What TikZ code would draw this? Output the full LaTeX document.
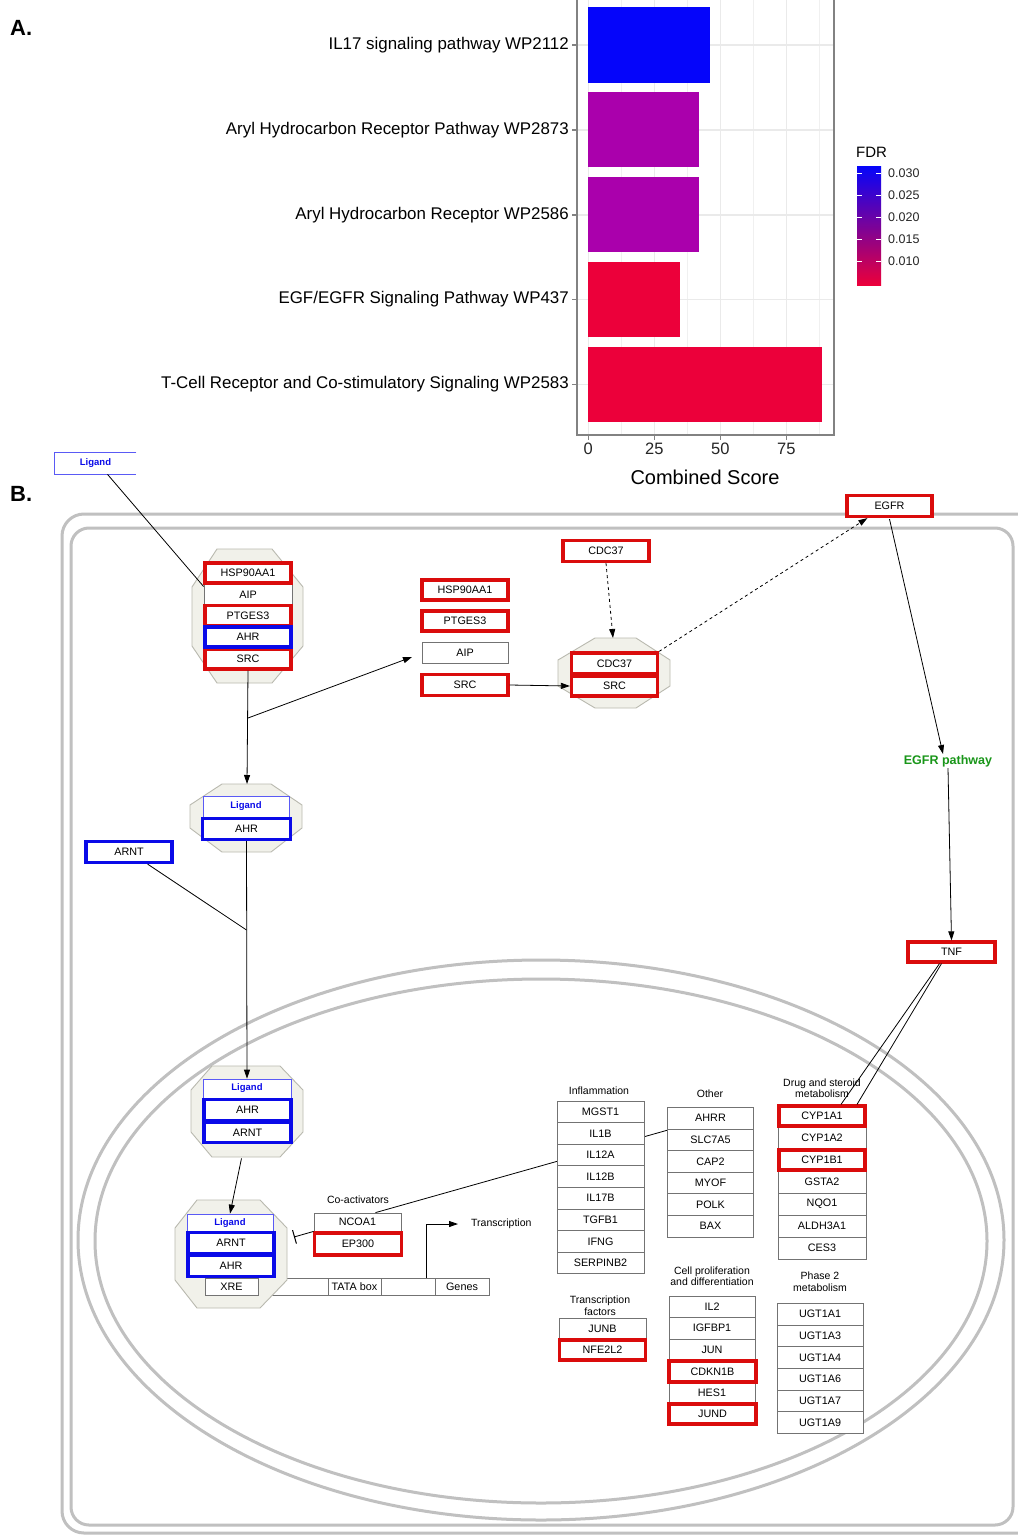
\documentclass[tikz,border=0pt]{standalone}
\usepackage{fontspec}
\setmainfont{Liberation Sans}
\usetikzlibrary{arrows.meta,calc}
\definecolor{pred}{RGB}{218,12,12}
\definecolor{pblue}{RGB}{10,10,232}
\definecolor{ligblue}{RGB}{90,90,245}
\definecolor{octfill}{RGB}{241,241,234}
\definecolor{octdraw}{RGB}{185,185,175}
\definecolor{membc}{RGB}{192,192,192}
\definecolor{barblue}{RGB}{5,5,250}
\definecolor{barpurple}{RGB}{170,0,172}
\definecolor{barred}{RGB}{236,0,58}
\definecolor{gridc}{RGB}{234,234,234}
\definecolor{axisc}{RGB}{130,130,130}
\definecolor{egfrgreen}{RGB}{25,150,25}
\newcommand{\fsz}[2]{\fontsize{#1}{#2}\selectfont}
\tikzset{
  cellb/.style={draw=black!55, line width=0.8pt, fill=white, inner sep=0pt, font=\fsz{10.8}{12}, text=black},
  redb/.style={cellb, draw=pred, line width=3.2pt},
  blueb/.style={cellb, draw=pblue, line width=3.2pt},
  ligb/.style={draw=ligblue, line width=0.7pt, fill=white, inner sep=0pt, font=\bfseries\fsz{9.5}{11}, text=pblue},
  wh/.style 2 args={minimum width=#1, minimum height=#2},
  octa/.style={fill=octfill, draw=octdraw, line width=0.9pt},
  arr/.style={-{Triangle[length=9pt,width=6pt]}, line width=0.8pt},
  darr/.style={arr, dashed},
  memb/.style={draw=membc, line width=3pt},
  ttl/.style={font=\fsz{10.5}{11.5}, align=center, inner sep=0pt},
  barlab/.style={anchor=east, font=\fsz{16.9}{18}, inner sep=0pt},
  ticklab/.style={font=\fsz{16.5}{18}, inner sep=0pt, text=black!85},
  leglab/.style={anchor=west, font=\fsz{12.5}{14}, inner sep=0pt, text=black!85},
}
\begin{document}
\begin{tikzpicture}[x=1pt,y=-1pt]
\useasboundingbox (0,0) rectangle (1017,1536);
\fill[white] (0,0) rectangle (1017,1536);

% ---------------- Panel A ----------------
\node[anchor=west, font=\bfseries\fsz{22}{24}, inner sep=0pt] (labA) at (10,28) {A.};
% grid
\foreach \v in {12.5,37.5,62.5,87.5}
  \draw[gridc!70!white, line width=0.8pt] ({588.3+2.64*\v},0) -- ({588.3+2.64*\v},435);
\foreach \v in {0,25,50,75}
  \draw[gridc, line width=1.2pt] ({588.3+2.64*\v},0) -- ({588.3+2.64*\v},435);
\foreach \y in {45,130,215,299.5,384.5}
  \draw[gridc, line width=1.2pt] (577,\y) -- (834,\y);
% bars
\fill[barblue] (588.3,7) rectangle (710.3,83);
\fill[barpurple] (588.3,92) rectangle (698.7,167);
\fill[barpurple] (588.3,177) rectangle (698.7,252);
\fill[barred] (588.3,262) rectangle (680.3,337);
\fill[barred] (588.3,347) rectangle (822,422);
% panel border
\draw[axisc, line width=1.3pt] (577,0) -- (577,435) -- (834,435) -- (834,0);
% ticks
\foreach \y in {45,130,215,299.5,384.5}
  \draw[axisc, line width=1.2pt] (572,\y) -- (577,\y);
\foreach \v in {0,25,50,75}
  \draw[axisc, line width=1.2pt] ({588.3+2.64*\v},435) -- ({588.3+2.64*\v},440);
% bar labels
\node[barlab] (bl1) at (569,45) {IL17 signaling pathway WP2112};
\node[barlab] (bl2) at (569,130) {Aryl Hydrocarbon Receptor Pathway WP2873};
\node[barlab] (bl3) at (569,215) {Aryl Hydrocarbon Receptor WP2586};
\node[barlab] (bl4) at (569,299.5) {EGF/EGFR Signaling Pathway WP437};
\node[barlab] (bl5) at (569,384.5) {T-Cell Receptor and Co-stimulatory Signaling WP2583};
% x tick labels
\node[ticklab] (t0) at (588.3,449) {0};
\node[ticklab] (t25) at (654.3,449) {25};
\node[ticklab] (t50) at (720.3,449) {50};
\node[ticklab] (t75) at (786.3,449) {75};
\node[font=\fsz{20}{22}, inner sep=0pt] (xlab) at (705,477) {Combined Score};
% legend
\node[anchor=west, font=\fsz{15}{17}, inner sep=0pt] (fdr) at (856,152) {FDR};
\shade[top color=barblue, middle color=barpurple, bottom color=barred] (857,166) rectangle (881,285);
\foreach \y in {173,195,217,239,261}{
  \draw[white, line width=0.8pt] (857,\y) -- (862,\y);
  \draw[white, line width=0.8pt] (876,\y) -- (881,\y);
}
\node[leglab] (l30) at (888,173) {0.030};
\node[leglab] (l25) at (888,195) {0.025};
\node[leglab] (l20) at (888,217) {0.020};
\node[leglab] (l15) at (888,239) {0.015};
\node[leglab] (l10) at (888,261) {0.010};

% ---------------- Panel B ----------------
\node[anchor=west, font=\bfseries\fsz{22}{24}, inner sep=0pt] (labB) at (10,494) {B.};
% membranes
\draw[memb, rounded corners=22] (62,514) rectangle (1045,1533);
\draw[memb, rounded corners=18] (71,528) rectangle (1013,1525);
\draw[memb] (541,1240) ellipse [x radius=463, y radius=280];
\draw[memb] (541,1241) ellipse [x radius=446, y radius=262];

% octagons
\draw[octa] (217,549) -- (272,549) -- (303,587) -- (303,646) -- (272,683) -- (217,683) -- (192,646) -- (192,587) -- cycle;
\draw[octa] (595,638) -- (636,638) -- (670,660) -- (670,686) -- (636,708) -- (595,708) -- (558,686) -- (558,660) -- cycle;
\draw[octa] (222,784) -- (271,784) -- (302,805) -- (302,828) -- (271,852) -- (222,852) -- (190,828) -- (190,805) -- cycle;
\draw[octa] (212,1066) -- (280,1066) -- (303,1090) -- (303,1132) -- (280,1157) -- (212,1157) -- (191,1132) -- (191,1090) -- cycle;

% DNA strip (behind complex 4)
\node[cellb, wh={231}{17}] (strip) at (373.5,1286.5) {};
\draw[black!55, line width=0.8pt] (328,1278) -- (328,1295) (381,1278) -- (381,1295) (435,1278) -- (435,1295);
\node[font=\fsz{10.8}{12}, inner sep=0pt] (tata) at (354.5,1286.5) {TATA box};
\node[font=\fsz{10.8}{12}, inner sep=0pt] (genes) at (462,1286.5) {Genes};
\draw[octa] (197,1200) -- (260,1200) -- (287,1228) -- (287,1280) -- (260,1308) -- (197,1308) -- (175,1280) -- (175,1228) -- cycle;
\node[cellb, wh={53}{17}] (xre) at (231.5,1286.5) {XRE};

% Ligand outside
\node[ligb, draw=none, wh={81}{21}] (lig0) at (95.5,463.5) {Ligand};
\draw[ligblue, line width=0.8pt] (lig0.north east) -- (lig0.north west) -- (lig0.south west) -- (lig0.south east);

% complex 1
\node[cellb, wh={88}{21}] (aip1) at (248,594.5) {AIP};
\node[redb, wh={86}{20}] (hsp1) at (248,573) {HSP90AA1};
\node[redb, wh={86}{20}] (ptg1) at (248,615.5) {PTGES3};
\node[redb, wh={86}{20}] (src1) at (248,659) {SRC};
\node[blueb, wh={86}{20}] (ahr1) at (248,637) {AHR};

% middle group
\node[redb, wh={86}{20}] (hsp2) at (465,590) {HSP90AA1};
\node[redb, wh={86}{20}] (ptg2) at (465,621) {PTGES3};
\node[cellb, wh={86}{21}] (aip2) at (465,653) {AIP};
\node[redb, wh={86}{21}] (src2) at (465,685) {SRC};
\node[redb, wh={86}{21}] (cdc1) at (606,551) {CDC37};
\node[redb, wh={86}{21}] (cdc2) at (614.5,663.5) {CDC37};
\node[redb, wh={86}{20}] (src3) at (614.5,686) {SRC};

% EGFR
\node[redb, wh={85}{21}] (egfr) at (889.5,506) {EGFR};
\node[font=\bfseries\fsz{12.5}{14}, text=egfrgreen, inner sep=1pt] (egfrp) at (948,761) {EGFR pathway};
\node[redb, wh={87}{20}] (tnf) at (951.5,952) {TNF};

% complex 2
\node[ligb, wh={86}{21}] (lig2) at (246,806.5) {Ligand};
\node[blueb, wh={88}{21}] (ahr2) at (246.5,829) {AHR};
\node[blueb, wh={86}{21}] (arnt1) at (129,852) {ARNT};

% complex 3
\node[ligb, wh={88}{19}] (lig3) at (247,1088.5) {Ligand};
\node[blueb, wh={87}{20.5}] (ahr3) at (247.5,1110) {AHR};
\node[blueb, wh={87}{20.5}] (arnt3) at (247.5,1132.5) {ARNT};

% complex 4
\node[ligb, wh={86}{18}] (lig4) at (230,1223) {Ligand};
\node[blueb, wh={86}{21}] (arnt4) at (231,1243) {ARNT};
\node[blueb, wh={86}{21}] (ahr4) at (231,1266) {AHR};

% co-activators
\node[ttl] (coact) at (358,1200) {Co-activators};
\node[cellb, wh={87}{18}] (ncoa) at (357.5,1222) {NCOA1};
\node[redb, wh={87}{22}] (ep300) at (358,1244) {EP300};
\node[font=\fsz{10.5}{12}, anchor=west, inner sep=0pt] (transc) at (471,1224) {Transcription};

% line NCOA1 -> Other (behind inflammation table)
\coordinate (othL) at (668,1130);
\draw[line width=0.8pt] ($(ncoa.north)+(18,0)$) -- (othL);

% Inflammation
\node[ttl] (infT) at (599,1091) {Inflammation};
\foreach \t [count=\i] in {MGST1,IL1B,IL12A,IL12B,IL17B,TGFB1,IFNG,SERPINB2}
  \node[cellb, wh={87}{21.6}] (inf\i) at (600.5,{1101+21.6*\i-10.8}) {\t};

% Other
\node[ttl] (othT) at (710,1094) {Other};
\foreach \t [count=\i] in {AHRR,SLC7A5,CAP2,MYOF,POLK,BAX}
  \node[cellb, wh={85.5}{21.6}] (oth\i) at (710.5,{1107.3+21.6*\i-10.8}) {\t};

% Drug and steroid metabolism
\node[ttl, font=\fsz{10.5}{10.8}] (drugT) at (822,1088) {Drug and steroid\\metabolism};
\foreach \t/\i in {CYP1A2/2,GSTA2/4,NQO1/5,ALDH3A1/6,CES3/7}
  \node[cellb, wh={88}{22}] (drug\i) at (822,{1105+22*\i-11}) {\t};
\foreach \t/\i in {CYP1A1/1,CYP1B1/3}
  \node[redb, wh={86}{20}] (drug\i) at (822,{1105+22*\i-11}) {\t};

% Transcription factors
\node[ttl, font=\fsz{10.5}{11.7}] (tfT) at (600,1306) {Transcription\\factors};
\node[cellb, wh={87}{21}] (junb) at (602.5,1328.5) {JUNB};
\node[redb, wh={86}{20}] (nfe) at (602.5,1350) {NFE2L2};

% Cell proliferation
\node[ttl, font=\fsz{10.5}{11.3}] (cpT) at (712,1276) {Cell proliferation\\and differentiation};
\node[cellb, wh={86}{21}] (il2) at (712,1306.5) {IL2};
\node[cellb, wh={86}{22}] (igf) at (712,1328) {IGFBP1};
\node[cellb, wh={86}{21}] (jun) at (712,1349.5) {JUN};
\node[cellb, wh={86}{20}] (hes) at (712,1393) {HES1};
\node[redb, wh={87}{21}] (cdkn) at (712.5,1371.5) {CDKN1B};
\node[redb, wh={87}{20}] (jund) at (712.5,1414) {JUND};

% Phase 2
\node[ttl, font=\fsz{10.5}{11.7}] (p2T) at (820,1282) {Phase 2\\metabolism};
\foreach \t [count=\i] in {UGT1A1,UGT1A3,UGT1A4,UGT1A6,UGT1A7,UGT1A9}
  \node[cellb, wh={86}{21.67}] (ugt\i) at (820,{1303.3+21.67*\i-10.83}) {\t};

% ---------------- connectors ----------------
\draw[line width=0.8pt] ($(lig0.south)+(12,0)$) -- ($(aip1.west)+(0,-8)$);
\coordinate (oct2top) at (247,784);
\draw[arr] (src1.south) -- (oct2top);
\coordinate (br1) at (248,718);
\coordinate (midtgt) at (412,657);
\draw[arr] (br1) -- (midtgt);
\draw[arr] (src2.east) -- (src3.west);
\coordinate (oct3top) at (613,638);
\draw[darr] (cdc1.south) -- (oct3top);
\draw[darr] (cdc2.north east) -- ($(egfr.south west)+(22,0)$);
\draw[arr] ($(egfr.south)+(0,1)$) -- ($(egfrp.north)+(-5,0)$);
\draw[arr] (egfrp.south) -- (tnf.north);
\draw[line width=0.8pt] ($(tnf.south)+(-12,0)$) -- ($(drug1.north)+(19,0)$);
\draw[line width=0.8pt] ($(tnf.south)+(-10,0)$) -- ($(drug1.north)+(35,0)$);
\draw[arr] (ahr2.south) -- (lig3.north);
\coordinate (join1) at (246.5,930);
\draw[line width=0.8pt] ($(arnt1.south east)+(-26,0)$) -- (join1);
\draw[arr] ($(arnt3.south)+(-6,14)$) -- (lig4.north);
\coordinate (inhEnd) at (294,1237);
\draw[line width=0.8pt, -{Bar[width=14pt,line width=1pt]}] (ncoa.south west) -- (inhEnd);
\coordinate (trs) at (426,1278);
\draw[arr] (trs) |- ($(transc.west)+(-13,0)$);
\end{tikzpicture}
\end{document}
